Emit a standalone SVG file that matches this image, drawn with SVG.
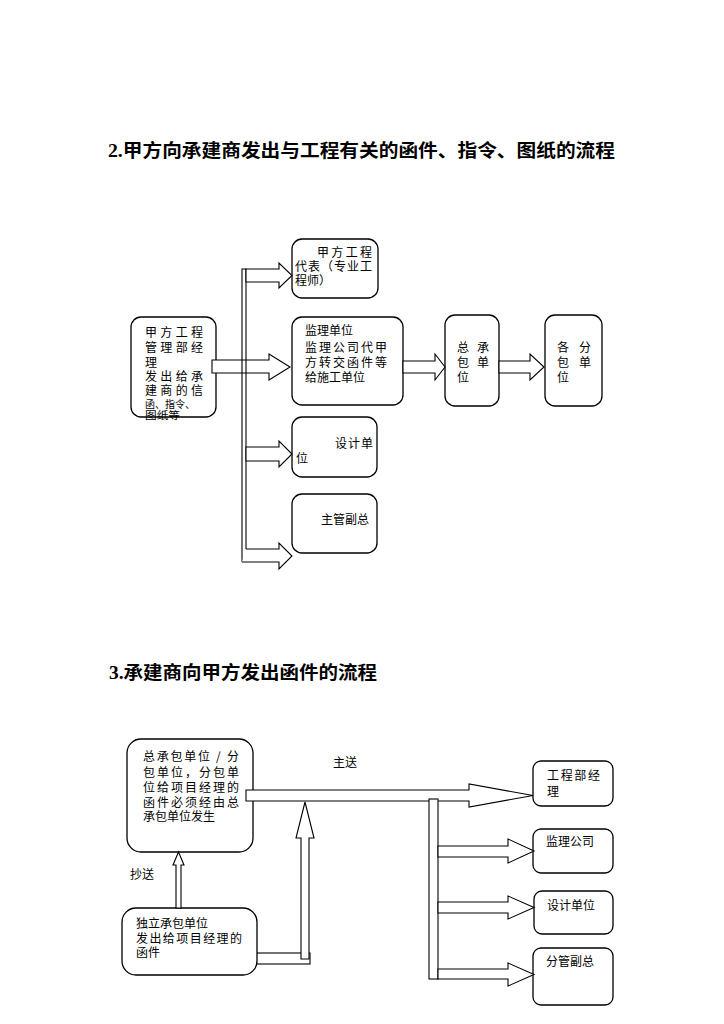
<svg xmlns="http://www.w3.org/2000/svg" width="724" height="1024" viewBox="0 0 724 1024">
<style>
.box{fill:#fff;stroke:#000;stroke-width:1.3}
.arr{fill:#fff;stroke:#000;stroke-width:1.1;stroke-linejoin:miter}
.ln{fill:none;stroke:#000;stroke-width:1.1}
.t{font-family:"Noto Sans CJK SC","Liberation Sans",sans-serif;font-size:12px;fill:#000}
.s{font-size:10.5px}
.title{font-family:"Liberation Serif","Noto Sans CJK SC",serif;font-size:18px;font-weight:bold;fill:#000}
</style>
<rect width="724" height="1024" fill="#fff"/>
<g id="titles">
<text class="title" x="108" y="157" textLength="507" lengthAdjust="spacingAndGlyphs">2.甲方向承建商发出与工程有关的函件、指令、图纸的流程</text>
<text class="title" x="109" y="679" textLength="268" lengthAdjust="spacingAndGlyphs">3.承建商向甲方发出函件的流程</text>
</g>

<g id="n2-daibiao">
<rect class="box" x="292" y="239" width="86" height="59" rx="10"/>
<text class="t" x="317" y="256.5" textLength="55" lengthAdjust="spacing">甲方工程</text>
<text class="t" x="295" y="270.5" textLength="77" lengthAdjust="spacing">代表（专业工</text>
<text class="t" x="295" y="284.5">程师）</text>
</g>
<g id="n2-jingli">
<rect class="box" x="131" y="317" width="85" height="100" rx="10"/>
<text class="t" x="145" y="336.5" textLength="58" lengthAdjust="spacing">甲方工程</text>
<text class="t" x="145" y="351.5" textLength="58" lengthAdjust="spacing">管理部经</text>
<text class="t" x="145" y="366.5">理</text>
<text class="t" x="145" y="381" textLength="58" lengthAdjust="spacing">发出给承</text>
<text class="t" x="145" y="395" textLength="58" lengthAdjust="spacing">建商的信</text>
<text class="t s" x="145" y="407.5" textLength="50" lengthAdjust="spacingAndGlyphs">函、指令、</text>
<text class="t s" x="145" y="419" textLength="35" lengthAdjust="spacingAndGlyphs">图纸等</text>
</g>
<g id="n2-jianli">
<rect class="box" x="292" y="317" width="111" height="88" rx="10"/>
<text class="t" x="305" y="334.5">监理单位</text>
<text class="t" x="305" y="351.5" textLength="82" lengthAdjust="spacing">监理公司代甲</text>
<text class="t" x="305" y="366.5" textLength="82" lengthAdjust="spacing">方转交函件等</text>
<text class="t" x="305" y="381.5">给施工单位</text>
</g>
<g id="n2-zongbao">
<rect class="box" x="445" y="315" width="54" height="91" rx="10"/>
<text class="t" x="457" y="351.5" textLength="32" lengthAdjust="spacing">总承</text>
<text class="t" x="457" y="366.5" textLength="32" lengthAdjust="spacing">包单</text>
<text class="t" x="457" y="381.5">位</text>
</g>
<g id="n2-fenbao">
<rect class="box" x="545" y="315" width="57" height="91" rx="10"/>
<text class="t" x="557" y="351.5" textLength="34" lengthAdjust="spacing">各分</text>
<text class="t" x="557" y="366.5" textLength="34" lengthAdjust="spacing">包单</text>
<text class="t" x="557" y="381.5">位</text>
</g>
<g id="n2-sheji">
<rect class="box" x="292" y="417" width="85" height="60" rx="10"/>
<text class="t" x="335" y="447.5" textLength="38" lengthAdjust="spacing">设计单</text>
<text class="t" x="296" y="462.5">位</text>
</g>
<g id="n2-fuzong">
<rect class="box" x="292" y="494" width="85" height="59" rx="10"/>
<text class="t" x="321" y="523.5">主管副总</text>
</g>

<g id="n3-zongbao">
<rect class="box" x="127" y="739" width="126" height="113" rx="14"/>
<text class="t" x="143" y="760.5" textLength="96" lengthAdjust="spacing">总承包单位 / 分</text>
<text class="t" x="143" y="776.5" textLength="96" lengthAdjust="spacing">包单位，分包单</text>
<text class="t" x="143" y="792" textLength="96" lengthAdjust="spacing">位给项目经理的</text>
<text class="t" x="143" y="806.5" textLength="96" lengthAdjust="spacing">函件必须经由总</text>
<text class="t" x="143" y="820.5">承包单位发生</text>
</g>
<g id="n3-duli">
<rect class="ln" x="250" y="953" width="60" height="11" style="fill:#fff"/>
<rect class="box" x="122" y="908" width="135" height="67" rx="14"/>
<text class="t" x="136" y="927.5">独立承包单位</text>
<text class="t" x="136" y="942.5" textLength="106" lengthAdjust="spacing">发出给项目经理的</text>
<text class="t" x="136" y="957">函件</text>
</g>
<g id="n3-gcb">
<rect class="box" x="533" y="761" width="80" height="45" rx="8"/>
<text class="t" x="547" y="780" textLength="53" lengthAdjust="spacing">工程部经</text>
<text class="t" x="547" y="796">理</text>
</g>
<g id="n3-jianli">
<rect class="box" x="533" y="829" width="80" height="44" rx="8"/>
<text class="t" x="546" y="846">监理公司</text>
</g>
<g id="n3-sheji">
<rect class="box" x="534" y="891" width="79" height="43" rx="8"/>
<text class="t" x="547" y="910">设计单位</text>
</g>
<g id="n3-fuzong">
<rect class="box" x="533" y="948" width="80" height="57" rx="8"/>
<text class="t" x="546" y="966">分管副总</text>
</g>

<g id="connectors">
<polygon class="arr" points="212,360 269,360 269,354 290,367 269,380 269,373 212,373"/>
<path class="ln" d="M242,562 V269 H246 V549"/>
<polygon class="arr" points="246,269 279,269 279,263 292,275.5 279,288 279,282 246,282"/>
<polygon class="arr" points="246,447 279,447 279,441 292,454 279,467 279,461 246,461"/>
<path class="arr" d="M246,549 H279 V543 L292,556 L279,569 V562 H242"/>
<polygon class="arr" points="403,361 435,361 435,354 445,367 435,380 435,373 403,373"/>
<polygon class="arr" points="499,361 530,361 530,354 544,367 530,380 530,373 499,373"/>

<polygon class="arr" points="246,790 469,790 469,784 533,795.5 469,807 469,801 246,801"/>
<rect class="arr" x="429" y="799" width="9" height="180"/>
<polygon class="arr" points="438,846 508,846 508,839 534,851 508,863 508,857 438,857"/>
<polygon class="arr" points="438,902 508,902 508,896 534,907.5 508,919 508,913 438,913"/>
<polygon class="arr" points="438,969 508,969 508,963 534,974.5 508,986 508,979 438,979"/>
<polygon class="arr" points="301,959 301,838 296,838 305,802 314,838 309,838 309,959"/>
<polygon class="arr" points="176,908 176,865 173,865 178.5,852 184,865 181,865 181,908"/>
<text class="t" x="333" y="767">主送</text>
<text class="t" x="130" y="879">抄送</text>
</g>
</svg>
